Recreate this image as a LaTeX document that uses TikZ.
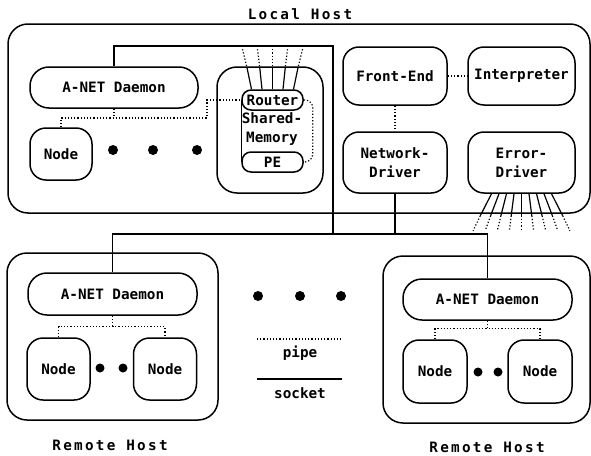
\documentclass[tikz,border=0pt]{standalone}
\usepackage{fontspec}
\setmonofont{DejaVu Sans Mono}
\newfontfamily\spacedfont{DejaVu Sans Mono}[LetterSpace=16]
\usetikzlibrary{calc}
\newcommand{\boxfont}{\fontsize{14.3}{19}\selectfont\ttfamily\bfseries}
\tikzset{
  host/.style={draw, line width=1.5pt, rounded corners=20pt, inner sep=0pt},
  proc/.style={draw, line width=1.5pt, rounded corners=16pt, inner sep=0pt, align=center, font=\boxfont},
  daemon/.style={proc, rounded corners=19pt},
  small/.style={proc, rounded corners=9pt},
  hostname/.style={font=\spacedfont\fontsize{14.3}{16}\selectfont\bfseries},
  socket/.style={line width=1.2pt},
  pipe/.style={line width=1.2pt, dotted},
  blob/.style={circle, fill, inner sep=0pt, minimum size=10pt},
}

\begin{document}
\begin{tikzpicture}[x=1pt, y=-1pt]
  \useasboundingbox (0,0) rectangle (591,455);

  % local host
  \node[host, minimum width=582, minimum height=189] (local) at (299,118.5) {};
  \node[hostname] (localname) at (300,14) {Local Host};
  \node[daemon, minimum width=168, minimum height=41] (ldaemon) at (114,87.5) {A-NET Daemon};
  \node[proc, minimum width=62, minimum height=52] (lnode) at (61,154) {Node};
  \foreach \x [count=\i] in {113,153,197}
    \node[blob] (ldot\i) at (\x,150) {};
  \node[host, minimum width=106, minimum height=126] (pebox) at (270,130) {};
  \node[small, minimum width=61, minimum height=20] (router) at (272.5,100) {Router};
  \node[small, minimum width=61, minimum height=20] (pe) at (272.5,162) {PE};
  \node[font=\boxfont, align=center, inner sep=0pt] (shmem) at (272,129) {Shared-\\Memory};
  \node[proc, minimum width=104, minimum height=58] (front) at (395,76) {Front-End};
  \node[proc, minimum width=107, minimum height=58] (interp) at (521.5,76) {Interpreter};
  \node[proc, minimum width=104, minimum height=61] (netdrv) at (395,162.5) {Network-\\Driver};
  \node[proc, minimum width=107, minimum height=61] (errdrv) at (521.5,162.5) {Error-\\Driver};

  % remote hosts
  \node[host, minimum width=211, minimum height=167] (remoteL) at (112.5,336.5) {};
  \node[daemon, minimum width=169, minimum height=42] (rdaemonL) at (112.5,294) {A-NET Daemon};
  \node[proc, minimum width=63, minimum height=62] (rnodeLa) at (58.5,369) {Node};
  \node[proc, minimum width=63, minimum height=62] (rnodeLb) at (165,369) {Node};
  \node[blob, minimum size=9pt] (rdotL1) at (100,368) {};
  \node[blob, minimum size=9pt] (rdotL2) at (123,368) {};
  \node[hostname] (remoteLname) at (110,445) {Remote Host};

  \node[host, minimum width=207, minimum height=167] (remoteR) at (486.5,339.5) {};
  \node[daemon, minimum width=169, minimum height=41] (rdaemonR) at (487.5,299.5) {A-NET Daemon};
  \node[proc, minimum width=64, minimum height=63] (rnodeRa) at (435,371.5) {Node};
  \node[proc, minimum width=64, minimum height=63] (rnodeRb) at (540,371.5) {Node};
  \node[blob, minimum size=9pt] (rdotR1) at (478,372) {};
  \node[blob, minimum size=9pt] (rdotR2) at (498,372) {};
  \node[hostname] (remoteRname) at (487,447) {Remote Host};

  % more hosts and the legend
  \foreach \x [count=\i] in {258,300,341}
    \node[blob] (mdot\i) at (\x,296) {};
  \coordinate (pipeA) at (257,339);
  \coordinate (pipeB) at (342,339);
  \coordinate (sockA) at (257,379);
  \coordinate (sockB) at (342,379);
  \draw[pipe] (pipeA) -- (pipeB);
  \draw[socket] (sockA) -- (sockB);
  \node[font=\boxfont] (pipename) at (300,353) {pipe};
  \node[font=\boxfont] (sockname) at (300,393) {socket};

  % sockets
  \coordinate (bend) at (333,46);
  \coordinate (bus) at (333,234);
  \draw[socket] (ldaemon.north) |- (bend) -- (bus);
  \draw[socket] (rdaemonL.north) |- (bus) -| (rdaemonR.north);
  \draw[socket] (netdrv.south) -- (netdrv.south |- bus);
  \draw[socket] (router.west) -- (pe.west);

  % pipes
  \coordinate (ljoin) at (207,118);
  \draw[pipe] (lnode.north) |- (ljoin) |- (router.west);
  \draw[pipe] (ldaemon.south) -- (ldaemon.south |- ljoin);
  \draw[pipe, rounded corners=8pt] (router.east) -| ++(9,31) |- (pe.east);
  \draw[pipe] (front.east) -- (interp.west);
  \draw[pipe] (front.south) -- (netdrv.north);
  \draw[pipe] (rnodeLa.north) |- ($(rdaemonL.south)+(0,11)$) -| (rnodeLb.north);
  \draw[pipe] (rdaemonL.south) -- ++(0,11);
  \draw[pipe] (rnodeRa.north) |- ($(rdaemonR.south)+(0,8)$) -| (rnodeRb.north);
  \draw[pipe] (rdaemonR.south) -- ++(0,8);

  % fans to the outside
  \foreach \k in {-2,...,2} {
    \draw[pipe] ($(router.north)+(15*\k,-40)$) -- ($(router.north)+(12.8*\k,-22)$);
    \draw[socket] ($(router.north)+(12.8*\k,-22)$) -- ($(router.north)+(10.5*\k,0)$);
  }
  \foreach \k in {-4,...,4} {
    \draw[socket] ($(errdrv.south)+(7.5*\k,0)$) -- ($(errdrv.south)+(10.3*\k,22)$);
    \draw[pipe] ($(errdrv.south)+(10.3*\k,22)$) -- ($(errdrv.south)+(12.1*\k,37)$);
  }
\end{tikzpicture}
\end{document}
